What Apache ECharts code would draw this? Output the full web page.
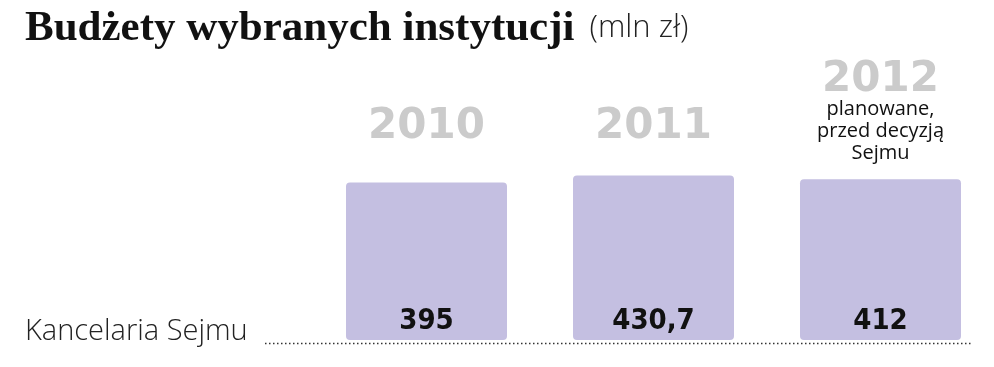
<!DOCTYPE html>
<html>
<head>
<meta charset="utf-8">
<script src="https://cdn.jsdelivr.net/npm/echarts@6/dist/echarts.min.js"></script>
<style>
  html, body { margin: 0; padding: 0; background: #fff; }
  #main { width: 994px; height: 367px; }
</style>
</head>
<body>
<div id="main"></div>
<script>
// dane
var years = ["2010", "2011", "2012"];
var yearNotes = ["", "", "planowane,\nprzed decyzją\nSejmu"];
var budzet = [395, 430.7, 412];
var rowName = "Kancelaria Sejmu";

var myChart = echarts.init(document.getElementById("main"));

myChart.setOption({
  animation: false,
  title: {
    left: 20,
    top: 2,
    text: "{a|Budżety wybranych instytucji}   {b|(mln zł)}",
    textStyle: {
      rich: {
        a: { fontFamily: "Liberation Serif", fontWeight: "bold", fontSize: 43, color: "#111" },
        b: { fontFamily: "Open Sans", fontWeight: 300, fontSize: 31, color: "#222" }
      }
    }
  },
  grid: {
    left: 313,
    width: 684,
    top: 162,
    bottom: 27
  },
  xAxis: {
    type: "category",
    position: "top",
    data: years,
    axisLine: { show: false },
    axisTick: { show: false },
    axisLabel: {
      interval: 0,
      margin: -2,
      formatter: function (value, index) {
        if (yearNotes[index]) {
          return "{y2|" + value + "}\n" + yearNotes[index].split("\n").map(function (s) {
            return "{s|" + s + "}";
          }).join("\n");
        }
        return "{y|" + value + "}";
      },
      rich: {
        y: { fontFamily: "DejaVu Sans", fontWeight: "bold", fontSize: 42, color: "#cbcbcb", padding: [0, 0, 16, 0] },
        y2: { fontFamily: "DejaVu Sans", fontWeight: "bold", fontSize: 42, color: "#cbcbcb", lineHeight: 36 },
        s: { fontFamily: "Open Sans", fontSize: 20, color: "#111", lineHeight: 22 }
      }
    }
  },
  yAxis: {
    type: "value",
    min: -410,
    max: 500,
    startValue: -410,
    show: false,
    splitLine: { show: false }
  },
  series: [
    {
      type: "bar",
      barWidth: 161,
      data: budzet,
      itemStyle: {
        color: "#c4bfe1",
        borderRadius: 4
      },
      label: {
        show: true,
        position: "insideBottom",
        distance: 4,
        fontFamily: "DejaVu Sans Condensed",
        fontWeight: "bold",
        fontSize: 29,
        color: "#111",
        formatter: function (p) {
          return String(p.value).replace(".", ",");
        }
      }
    }
  ],
  graphic: [
    {
      type: "text",
      left: 25,
      top: 317,
      style: {
        text: rowName,
        font: "300 29px 'Open Sans'",
        fill: "#222"
      }
    },
    {
      type: "line",
      shape: { x1: 265, y1: 343.5, x2: 972, y2: 343.5 },
      style: { stroke: "#333", lineWidth: 1.5, lineDash: [1.5, 2.5] },
      z: -1
    }
  ]
});
</script>
</body>
</html>
